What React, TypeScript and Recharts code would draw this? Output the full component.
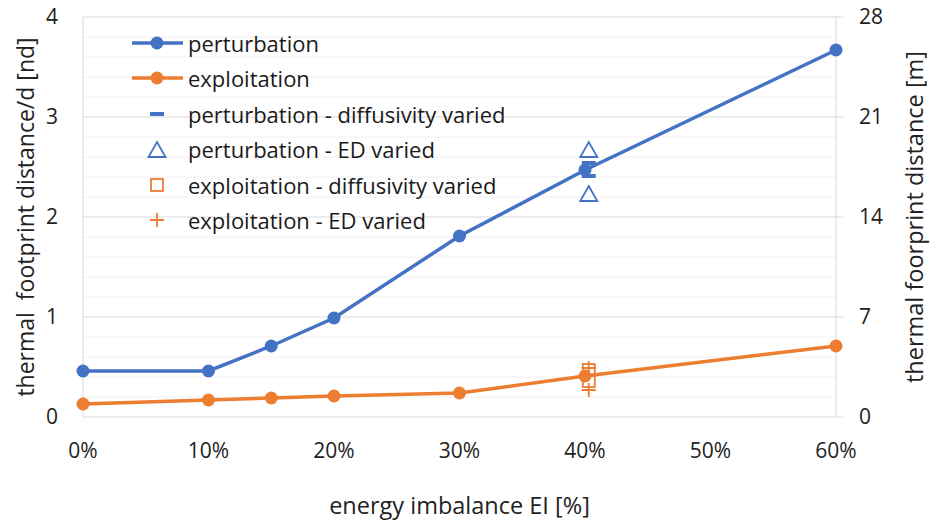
import {
  ComposedChart, Line, Scatter, XAxis, YAxis, ReferenceLine
} from 'recharts'

const FONT = '"Open Sans", sans-serif'
const BLUE = '#4472C4'
const ORANGE = '#ED7D31'

// energy imbalance EI [%]
const eiLevels = [0, 10, 15, 20, 30, 40, 60]
const perturbation = [0.46, 0.46, 0.71, 0.99, 1.81, 2.47, 3.67]
const exploitation = [0.13, 0.17, 0.19, 0.21, 0.24, 0.41, 0.71]

// sensitivity runs at EI = 40 %
const variedEI = 40.3
const pertDiffusivity = [2.54, 2.41]
const pertED = [2.67, 2.23]
const explDiffusivity = [0.47, 0.36]
const explED = [0.49, 0.27]

// borehole spacing d [m] linking the two y axes
const spacing = 7

const xTicks = [0, 10, 20, 30, 40, 50, 60]
const leftTicks = [0, 1, 2, 3, 4]
const rightTicks = [0, 7, 14, 21, 28]

const toPoints = (xs: number[], ys: number[]) => ys.map((y, i) => ({ x: xs[i], y }))
const atVaried = (ys: number[]) => ys.map(y => ({ x: variedEI, y }))

// minor gridlines every 0.2
const minorGrid: number[] = []
for (let i = 1; i < 20; i++) if (i % 5 !== 0) minorGrid.push(i / 5)

const Dash = ({ cx, cy }: any) => <rect x={cx - 7} y={cy - 2} width={14} height={4} fill={BLUE} />
const Triangle = ({ cx, cy }: any) => (
  <path d={`M${cx},${cy - 8} L${cx + 8.5},${cy + 7} L${cx - 8.5},${cy + 7} Z`} fill="none" stroke={BLUE} strokeWidth={1.8} />
)
const Square = ({ cx, cy }: any) => (
  <rect x={cx - 6} y={cy - 6} width={12} height={12} fill="none" stroke={ORANGE} strokeWidth={1.8} />
)
const Plus = ({ cx, cy }: any) => (
  <path d={`M${cx - 7},${cy} H${cx + 7} M${cx},${cy - 7} V${cy + 7}`} stroke={ORANGE} strokeWidth={1.8} />
)

const legendItems = [
  { label: 'perturbation', icon: 'line', color: BLUE },
  { label: 'exploitation', icon: 'line', color: ORANGE },
  { label: 'perturbation - diffusivity varied', icon: 'dash', color: BLUE },
  { label: 'perturbation - ED varied', icon: 'triangle', color: BLUE },
  { label: 'exploitation - diffusivity varied', icon: 'square', color: ORANGE },
  { label: 'exploitation - ED varied', icon: 'plus', color: ORANGE },
]

function LegendBox() {
  return (
    <div style={{ position: 'absolute', left: 130, top: 25, fontFamily: FONT, fontSize: 22, color: '#1a1a1a' }}>
      {legendItems.map(it => (
        <div key={it.label} style={{ display: 'flex', alignItems: 'center', height: 35.5 }}>
          <svg width={56} height={20} style={{ marginRight: 2 }}>
            {it.icon === 'line' && <>
              <line x1={2} y1={10} x2={53} y2={10} stroke={it.color} strokeWidth={3.5} />
              <circle cx={27} cy={10} r={6.5} fill={it.color} />
            </>}
            {it.icon === 'dash' && <rect x={20} y={8} width={14} height={4} fill={it.color} />}
            {it.icon === 'triangle' && <Triangle cx={27} cy={11} />}
            {it.icon === 'square' && <Square cx={27} cy={10} />}
            {it.icon === 'plus' && <Plus cx={27} cy={10} />}
          </svg>
          <span>{it.label}</span>
        </div>
      ))}
    </div>
  )
}

const tickStyle = { fontFamily: FONT, fontSize: 21, fill: '#222' }

const sideLabel = (text: string, x: number, size: number) => (props: any) => {
  const vb = props.viewBox
  const cy = vb.y + vb.height / 2
  return (
    <text x={x} y={cy} transform={`rotate(-90 ${x} ${cy})`} textAnchor="middle"
      dominantBaseline="central" style={{ fontFamily: FONT, fontSize: size, fill: '#222', whiteSpace: 'pre' }}>
      {text}
    </text>
  )
}

export default function App() {
  return (
    <div style={{ position: 'absolute', left: 0, top: 0, width: 932, height: 522, background: '#fff' }}>
      <style>{'body{margin:0}'}</style>
      <ComposedChart width={932} height={522} margin={{ top: 17, right: 0, left: 0, bottom: 0 }}>
        <XAxis type="number" dataKey="x" domain={[0, 60]} ticks={xTicks}
          tickFormatter={v => `${v}%`} tick={tickStyle} tickLine={false} height={105}
          axisLine={{ stroke: '#d9d9d9' }} tickMargin={20}
          label={{ value: 'energy imbalance EI [%]', position: 'insideBottom', offset: 8,
            style: { fontFamily: FONT, fontSize: 23.5, fill: '#222' } }} />
        <YAxis yAxisId="left" type="number" domain={[0, 4]} ticks={leftTicks} width={83}
          tick={tickStyle} tickLine={false} axisLine={{ stroke: '#d9d9d9' }} tickMargin={19}
          label={{ content: sideLabel('thermal  footprint distance/d [nd]', 25, 23) }} />
        <YAxis yAxisId="right" orientation="right" type="number" domain={[0, 28]} ticks={rightTicks}
          width={96} tick={tickStyle} tickSize={7} tickLine={{ stroke: '#d9d9d9' }}
          axisLine={{ stroke: '#d9d9d9' }} tickMargin={16}
          label={{ content: sideLabel('thermal foorprint distance [m]', 914, 23.5) }} />

        {minorGrid.map(v => (
          <ReferenceLine key={v} yAxisId="left" y={v} stroke="#f0f0f0" strokeWidth={1} />
        ))}
        {leftTicks.slice(1).map(v => (
          <ReferenceLine key={`M${v}`} yAxisId="left" y={v} stroke="#d9d9d9" strokeWidth={1} />
        ))}

        {/* same perturbation curve in metres, drawn invisibly to carry the right axis */}
        <Line yAxisId="right" data={toPoints(eiLevels, perturbation.map(v => v * spacing))} dataKey="y"
          stroke="none" dot={false} activeDot={false} isAnimationActive={false} />
        <Line yAxisId="left" data={toPoints(eiLevels, perturbation)} dataKey="y" name="perturbation"
          stroke={BLUE} strokeWidth={3.5} dot={{ r: 6.5, fill: BLUE, stroke: BLUE, strokeWidth: 0 }}
          isAnimationActive={false} />
        <Line yAxisId="left" data={toPoints(eiLevels, exploitation)} dataKey="y" name="exploitation"
          stroke={ORANGE} strokeWidth={3.5} dot={{ r: 6.5, fill: ORANGE, stroke: ORANGE, strokeWidth: 0 }}
          isAnimationActive={false} />
        <Scatter yAxisId="left" data={atVaried(pertDiffusivity)} dataKey="y" shape={<Dash />} isAnimationActive={false} />
        <Scatter yAxisId="left" data={atVaried(pertED)} dataKey="y" shape={<Triangle />} isAnimationActive={false} />
        <Scatter yAxisId="left" data={atVaried(explDiffusivity)} dataKey="y" shape={<Square />} isAnimationActive={false} />
        <Scatter yAxisId="left" data={atVaried(explED)} dataKey="y" shape={<Plus />} isAnimationActive={false} />
      </ComposedChart>
      <LegendBox />
    </div>
  )
}
